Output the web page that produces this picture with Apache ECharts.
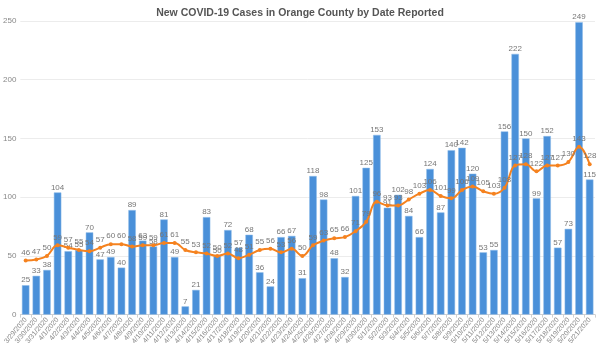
<!DOCTYPE html>
<html>
<head>
<meta charset="utf-8">
<script src="https://cdn.jsdelivr.net/npm/echarts@6/dist/echarts.min.js"></script>
<style>html,body{margin:0;padding:0;background:#fff;}#c{width:600px;height:347px;}</style>
</head>
<body>
<div id="c"></div>
<script>
const categories = ["3/29/2020","3/30/2020","3/31/2020","4/1/2020","4/2/2020","4/3/2020","4/4/2020","4/5/2020","4/6/2020","4/7/2020","4/8/2020","4/9/2020","4/10/2020","4/11/2020","4/12/2020","4/13/2020","4/14/2020","4/15/2020","4/16/2020","4/17/2020","4/18/2020","4/19/2020","4/20/2020","4/21/2020","4/22/2020","4/23/2020","4/24/2020","4/25/2020","4/26/2020","4/27/2020","4/28/2020","4/29/2020","4/30/2020","5/1/2020","5/2/2020","5/3/2020","5/4/2020","5/5/2020","5/6/2020","5/7/2020","5/8/2020","5/9/2020","5/10/2020","5/11/2020","5/12/2020","5/13/2020","5/14/2020","5/15/2020","5/16/2020","5/17/2020","5/18/2020","5/19/2020","5/20/2020","5/21/2020"];
const newCases = [25,33,38,104,54,55,70,47,49,40,89,63,58,81,49,7,21,83,50,72,57,68,36,24,66,67,31,118,98,48,32,101,125,153,91,102,84,66,124,87,140,142,120,53,55,156,222,150,99,152,57,73,249,115];
const movingAvg = [46,47,50,59,57,55,54,57,60,60,58,59,59,61,61,55,53,52,50,52,48,51,55,56,53,56,50,59,63,65,66,71,79,96,93,93,98,103,106,101,99,106,109,105,103,108,127,128,122,127,127,130,143,128];
const yTicks = [0,50,100,150,200,250];

const chart = echarts.init(document.getElementById('c'), null, {renderer:'canvas'});
const font = 'Helvetica, "Liberation Sans", Arial, sans-serif';
chart.setOption({
  animation:false,
  textStyle:{fontFamily:font},
  title:{text:'New COVID-19 Cases in Orange County by Date Reported',left:'center',top:3,
    textStyle:{fontSize:10.5,fontWeight:'bold',color:'#555',fontFamily:font}},
  grid:{left:18,right:5,top:21,bottom:32,containLabel:false},
  xAxis:{type:'category',data:categories,boundaryGap:true,
    axisLine:{lineStyle:{color:'#d0d0d0'}},
    axisTick:{show:true,length:3,lineStyle:{color:'#d0d0d0'}},
    axisLabel:{interval:0,rotate:50,fontSize:7,color:'#888',margin:4,fontFamily:font}},
  yAxis:{type:'value',min:yTicks[0],max:yTicks[yTicks.length-1],interval:50,
    axisLine:{show:false},axisTick:{show:false},
    splitLine:{lineStyle:{color:'#ececec'}},
    axisLabel:{fontSize:8,color:'#888',margin:4,fontFamily:font}},
  series:[
    {type:'bar',data:newCases,barCategoryGap:'30%',
      itemStyle:{color:'#4A90D9',borderColor:'#8dbbe9',borderWidth:0.5},
      label:{show:true,position:'top',distance:1,fontSize:8,color:'#777',fontFamily:font}},
    {type:'line',data:movingAvg,smooth:0.4,symbol:'circle',symbolSize:4,z:5,
      itemStyle:{color:'#F5821F'},lineStyle:{color:'#F5821F',width:2},
      label:{show:true,position:'top',distance:2,fontSize:8,color:'#777',fontFamily:font}}
  ]
});
</script>
</body>
</html>
